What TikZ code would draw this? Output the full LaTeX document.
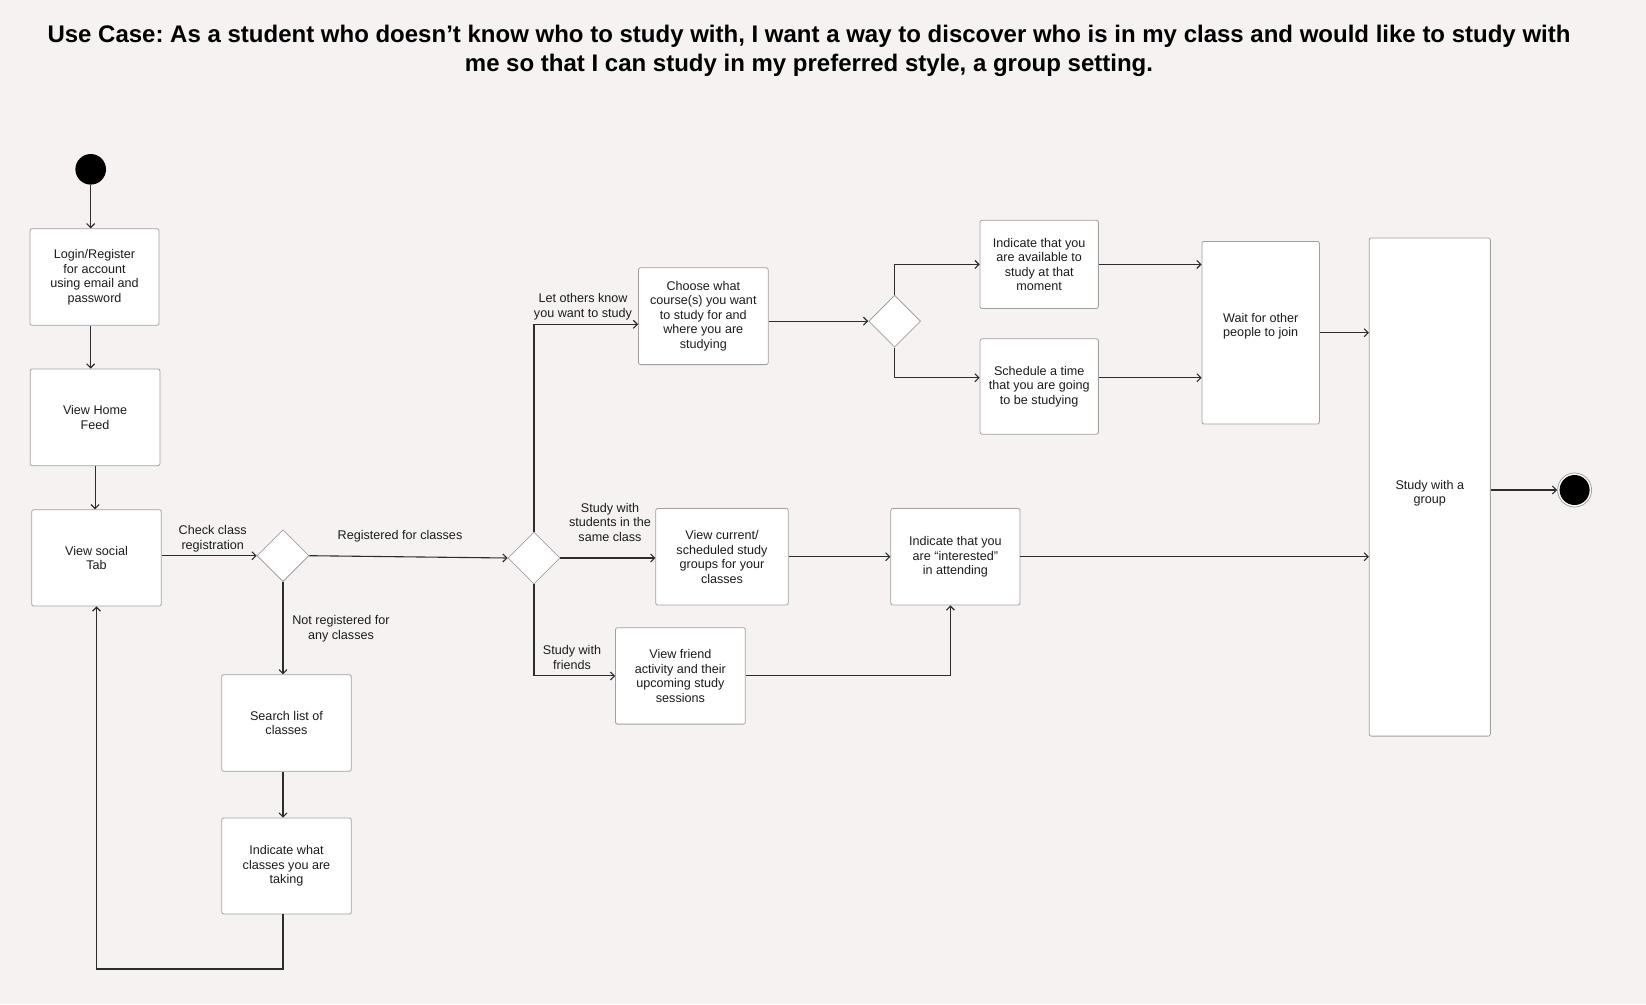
\documentclass[tikz,border=0pt]{standalone}
\usepackage{fontspec}
\setmainfont{Liberation Sans}
\frenchspacing
\usetikzlibrary{arrows.meta,shapes.geometric}
\definecolor{bg}{RGB}{247,242,242}
\definecolor{ink}{RGB}{28,28,28}
\definecolor{edgec}{RGB}{160,160,160}
\definecolor{wire}{RGB}{45,45,45}
\begin{document}
\begin{tikzpicture}[x=1pt,y=-1pt,
  box/.style={draw=edgec, fill=white, rounded corners=2pt, line width=0.8pt, align=center, inner sep=2pt,
    font=\fontsize{12.6}{14.5}\selectfont, text=ink},
  dia/.style={diamond, draw=edgec, fill=white, line width=0.8pt, minimum width=52pt, minimum height=52pt, inner sep=0pt},
  conn/.style={draw=wire, line width=1.1pt, -{Straight Barb[length=4pt,width=8pt]}},
  lbl/.style={align=center, font=\fontsize{12.6}{14.5}\selectfont, text=ink, inner sep=0pt}]
\fill[bg] (0,0) rectangle (1646,1004);
\useasboundingbox (0,0) rectangle (1646,1004);

% title
\node[align=center, font=\bfseries\fontsize{24}{28.5}\selectfont, text=black] (title) at (809,51)
  {Use Case: As a student who doesn’t know who to study with, I want a way to discover who is in my class and would like to study with\\
   me so that I can study in my preferred style, a group setting.};

% nodes
\node[circle, fill=black, minimum size=30.6pt, inner sep=0pt] (start) at (90.7,169.3) {};
\node[box, minimum width=129pt, minimum height=96.6pt] (login) at (94.5,277) {Login/Register\\for account\\using email and\\password};
\node[box, minimum width=129.7pt, minimum height=96.7pt] (home) at (95.1,417.3) {View Home\\Feed};
\node[box, minimum width=129.6pt, minimum height=96.3pt] (social) at (96.5,557.9) {View social\\Tab};
\node[dia] (d1) at (283,555.7) {};
\node[box, minimum width=129.6pt, minimum height=96.6pt] (search) at (286.5,723) {Search list of\\classes};
\node[box, minimum width=129.6pt, minimum height=96pt] (indic) at (286.5,866) {Indicate what\\classes you are\\taking};
\node[dia] (d2) at (534,558) {};
\node[box, minimum width=129.7pt, minimum height=96.8pt] (choose) at (703.3,316.2) {Choose what\\course(s) you want\\to study for and\\where you are\\studying};
\node[dia] (d3) at (894.6,321.2) {};
\node[box, minimum width=118.3pt, minimum height=88.2pt] (avail) at (1039.2,264.4) {Indicate that you\\are available to\\study at that\\moment};
\node[box, minimum width=118.3pt, minimum height=95.4pt] (sched) at (1039.2,386.5) {Schedule a time\\that you are going\\to be studying};
\node[box, minimum width=132.5pt, minimum height=96.5pt] (viewcur) at (722,556.75) {View current/\\scheduled study\\groups for your\\classes};
\node[box, minimum width=129.7pt, minimum height=96.4pt] (friend) at (680.4,675.9) {View friend\\activity and their\\upcoming study\\sessions};
\node[box, minimum width=129.3pt, minimum height=96.5pt] (inter) at (955.4,556.75) {Indicate that you\\are “interested”\\in attending};
\node[box, minimum width=117.4pt, minimum height=182.6pt] (wait) at (1260.7,332.7) {};
\node[lbl] (waittxt) at (1260.7,326) {Wait for other\\people to join};
\node[box, minimum width=121.1pt, minimum height=498.2pt] (group) at (1429.8,487) {};
\node[lbl] (grouptxt) at (1429.8,493) {Study with a\\group};
\node[circle, draw=edgec, fill=white, line width=0.8pt, minimum size=34pt, inner sep=0pt] (endc) at (1574.6,490) {};
\fill[black] (endc.center) circle (15pt);

% helper coordinates
\coordinate (yLet) at (0,324.3);
\coordinate (ySch) at (0,377.7);
\coordinate (yLoop) at (0,969);
\coordinate (xF) at (950.4,0);

% labels
\node[lbl] (lcheck) at (212.7,538.5) {Check class\\registration};
\node[lbl] (lreg) at (400,536.7) {Registered for classes};
\node[lbl] (lnot) at (341,628.8) {Not registered for\\any classes};
\node[lbl] (llet) at (583,306.5) {Let others know\\you want to study};
\node[lbl] (lsame) at (610,522) {Study with\\students in the\\same class};
\node[lbl] (lfri) at (572,657.3) {Study with\\friends};

% connectors
\draw[conn] (start.south) -- (start.south |- login.north);
\draw[conn] (login.south -| start.center) -- (home.north -| start.center);
\draw[conn] (home.south) -- (home.south |- social.north);
\draw[conn] (social.east |- d1.west) -- (d1.west);
\draw[conn] (d1.east) -- (d2.west);
\draw[conn] (d1.south) -- (search.north -| d1.south);
\draw[conn] (search.south -| d1.south) -- (indic.north -| d1.south);
\draw[conn] (indic.south -| d1.south) -- (yLoop -| d1.south) -| (social.south);
\draw[conn] (d2.north) |- (choose.west |- yLet);
\draw[conn] (d2.east) -- (viewcur.west |- d2.east);
\draw[conn] (d2.south) |- (friend.west);
\draw[conn] (choose.east |- d3.west) -- (d3.west);
\draw[conn] (d3.north) |- (avail.west);
\draw[conn] (d3.south) |- (sched.west |- ySch);
\draw[conn] (avail.east) -- (wait.west |- avail.east);
\draw[conn] (sched.east |- ySch) -- (wait.west |- ySch);
\draw[conn] (wait.east) -- (group.west |- wait.east);
\draw[conn] (viewcur.east) -- (inter.west |- viewcur.east);
\draw[conn] (friend.east) -| (xF |- inter.south);
\draw[conn] (inter.east) -- (group.west |- inter.east);
\draw[conn] (group.east |- endc.west) -- (endc.west);
\end{tikzpicture}
\end{document}
